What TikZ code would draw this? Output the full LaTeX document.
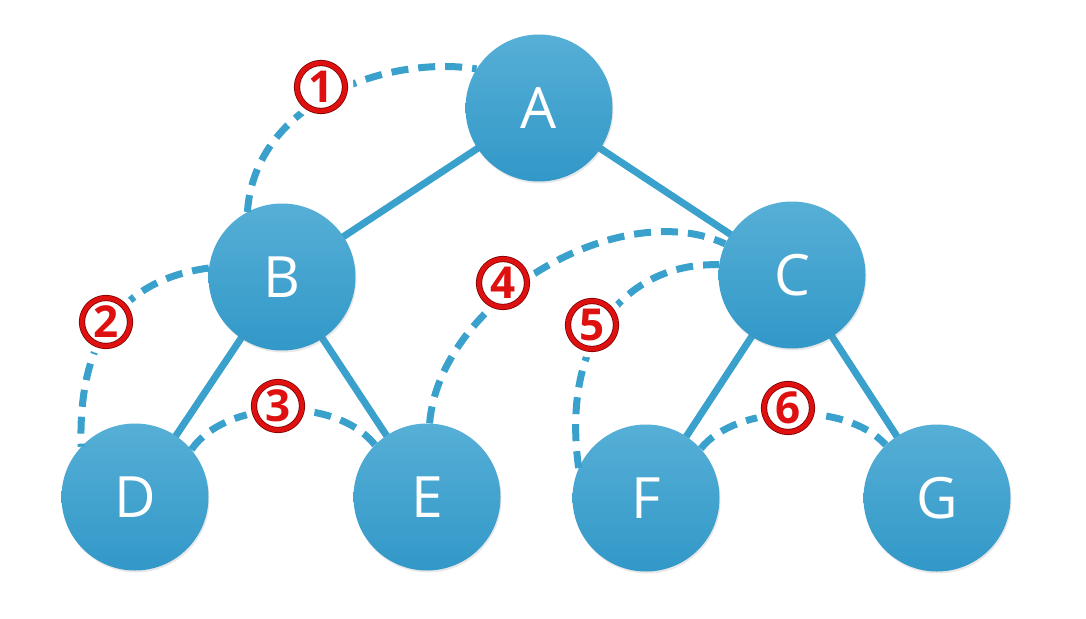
\documentclass[tikz,border=0pt]{standalone}
\usepackage{fontspec}
\setmainfont{Open Sans}
\usetikzlibrary{shadows}
\definecolor{nodetop}{RGB}{86,175,214}
\definecolor{nodebot}{RGB}{50,152,200}
\definecolor{edgeblue}{RGB}{58,160,204}
\definecolor{numred}{RGB}{222,16,16}
\definecolor{numdark}{RGB}{125,0,0}
\begin{document}
\begin{tikzpicture}[x=1pt,y=-1pt,
  vert/.style={circle, minimum size=147pt, inner sep=0pt, top color=nodetop, bottom color=nodebot,
    text=white, font=\fontsize{57}{60}\selectfont,
    drop shadow={opacity=0.18, shadow xshift=1pt, shadow yshift=-2pt}},
  tedge/.style={draw=edgeblue, line width=7pt},
  trav/.style={draw=edgeblue, line width=7pt, dash pattern=on 17pt off 10pt},
  num/.style={circle, minimum size=48pt, inner sep=0pt, draw=numdark, line width=0.8pt,
    double=numred, double distance=4.6pt, fill=white, text=numred,
    font=\bfseries\fontsize{44}{46}\selectfont, preaction={draw=white, line width=17pt}}
]
\fill[white] (0,0) rectangle (1086,618);
\useasboundingbox (0,0) rectangle (1086,618);

% tree edges (behind nodes)
\coordinate (pA) at (539,108);
\coordinate (pB) at (282,277);
\coordinate (pC) at (792,275);
\coordinate (pD) at (135,497);
\coordinate (pE) at (427,497);
\coordinate (pF) at (646,498);
\coordinate (pG) at (937,498);
\draw[tedge] (pA) -- (pB);
\draw[tedge] (pA) -- (pC);
\draw[tedge] (pB) -- (pD);
\draw[tedge] (pB) -- (pE);
\draw[tedge] (pC) -- (pF);
\draw[tedge] (pC) -- (pG);

% vertices
\node[vert] (A) at (pA) {A};
\node[vert] (B) at (pB) {B};
\node[vert] (C) at (pC) {C};
\node[vert] (D) at (pD) {D};
\node[vert] (E) at (pE) {E};
\node[vert] (F) at (pF) {F};
\node[vert] (G) at (pG) {G};

% traversal arcs
\draw[trav] (B.118) .. controls (255,100) and (390,55) .. (A.148);
\draw[trav] (B.173) .. controls (120,280) and (78,340) .. (D.137);
\draw[trav] (D.40) .. controls (225,400) and (335,395) .. (E.135);
\draw[trav] (E.88) .. controls (440,300) and (620,195) .. (C.155);
\draw[trav] (F.156) .. controls (560,335) and (630,262) .. (C.172);
\draw[trav] (F.42) .. controls (735,405) and (845,400) .. (G.134);

% step labels
\node[num] (n1) at (321,87) {1};
\node[num] (n2) at (106,322) {2};
\node[num] (n3) at (278,406) {3};
\node[num] (n4) at (503,283) {4};
\node[num] (n5) at (592,325) {5};
\node[num] (n6) at (788,408) {6};
\end{tikzpicture}
\end{document}
